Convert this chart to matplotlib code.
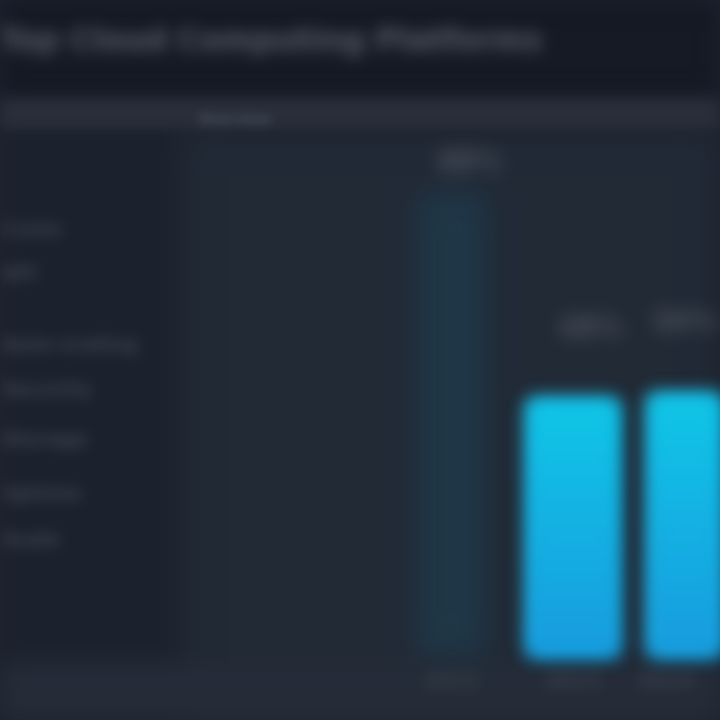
import numpy as np
import matplotlib
matplotlib.use("Agg")
import matplotlib.pyplot as plt
from matplotlib.patches import Rectangle

# ---- data ----
categories = ["2022", "2023", "2024"]
values = [88, 48.5, 49.5]
highlight = [False, True, True]
value_labels = ["88%", "48%", "50%"]
menu_items = ["Costs", "API", "Auto-scaling", "Security", "Storage", "Uptime", "Scale"]
title = "Top Cloud Computing Platforms"
header = "Overview"


def make_blur(sigma):
    def _filter(im, dpi):
        pad = int(sigma * 3)
        h, w, c = im.shape
        out = np.zeros((h + 2 * pad, w + 2 * pad, c), dtype=float)
        out[pad:pad + h, pad:pad + w] = im
        a = out[..., 3:4].copy()
        out[..., :3] *= a
        x = np.arange(-pad, pad + 1)
        k = np.exp(-x ** 2 / (2 * sigma ** 2))
        k /= k.sum()
        out = np.apply_along_axis(lambda r: np.convolve(r, k, mode="same"), 0, out)
        out = np.apply_along_axis(lambda r: np.convolve(r, k, mode="same"), 1, out)
        a = out[..., 3:4]
        out[..., :3] = np.where(a > 1e-6, out[..., :3] / np.maximum(a, 1e-6), 0)
        out = np.clip(out, 0, 1)
        return out, -pad, -pad
    return _filter


W = H = 720
fig = plt.figure(figsize=(7.2, 7.2), dpi=100)
fig.patch.set_facecolor("#1d2330")


def px_rect(x0, y0, x1, y1, color, blur=10):
    r = Rectangle((x0 / W, 1 - y1 / H), (x1 - x0) / W, (y1 - y0) / H,
                  transform=fig.transFigure, facecolor=color, edgecolor="none", zorder=-10)
    r.set_agg_filter(make_blur(blur))
    fig.patches.append(r)


# background panels (overlapping, drawn in order)
px_rect(-60, 100, 780, 780, "#1d222e")
px_rect(180, 128, 780, 780, "#222a37", blur=16)
px_rect(-60, 662, 780, 780, "#262d39", blur=12)
px_rect(-60, -60, 780, 95, "#151a24")
px_rect(-60, 100, 780, 128, "#2a303c", blur=7)

t = fig.text(0 / W, 1 - 42 / H, title, fontsize=22, fontweight="bold", color="#5a6069",
             va="center", ha="left", family="DejaVu Sans")
t.set_agg_filter(make_blur(8))
t = fig.text(198 / W, 1 - 120 / H, header, fontsize=10, fontweight="bold",
             color="#4e5560", va="center")
t.set_agg_filter(make_blur(5))

menu_y = [230, 275, 345, 390, 440, 495, 540]
for item, yy in zip(menu_items, menu_y):
    tt = fig.text(2 / W, 1 - yy / H, item, fontsize=14, fontweight="bold",
                  color="#3f4652", va="center", ha="left")
    tt.set_agg_filter(make_blur(7))

# ---- chart axes ----
ax = fig.add_axes([180 / W, (H - 655) / H, 540 / W, (655 - 130) / H])
ax.set_facecolor("none")
x = np.arange(len(categories))
colors = ["#14b2e8" if h else "#1f3848" for h in highlight]
widths = [0.74 if h else 0.55 for h in highlight]
bars = ax.bar(x, values, width=widths, color=colors, zorder=3)
for b, h in zip(bars, highlight):
    b.set_agg_filter(make_blur(9 if h else 14))
    if h:
        bx, by = b.get_x(), b.get_y()
        grad = np.linspace(0, 1, 256).reshape(-1, 1)
        im = ax.imshow(grad, extent=(bx, bx + b.get_width(), by, by + b.get_height()),
                       cmap=matplotlib.colors.LinearSegmentedColormap.from_list(
                           "g", ["#1a9ce0", "#10c8e8"]),
                       aspect="auto", origin="lower", zorder=4)
        im.set_clip_path(b)
        im.set_agg_filter(make_blur(9))

for i, (xi, v, lab, h) in enumerate(zip(x, values, value_labels, highlight)):
    off = 11 if h else 3
    last = i == len(x) - 1
    tt = ax.text(xi + (0.2 if last else 0.15), v + off, lab,
                 ha="right" if last else "center", va="bottom", fontsize=20,
                 fontweight="bold", color="#4f5661", zorder=5)
    tt.set_agg_filter(make_blur(9))

ax.set_xlim(-(451 - 180) / 121.5, 2 + (720 - 694) / 121.5)
ax.set_ylim(0, 100)
ax.set_xticks(x)
ax.set_xticklabels(categories, color="#3a414c", fontsize=15, fontweight="bold")
ticklabels = ax.get_xticklabels()
ticklabels[-1].set_horizontalalignment("right")
for lbl in ticklabels:
    lbl.set_agg_filter(make_blur(7))
ax.tick_params(axis="x", length=0, pad=12)
ax.set_yticks([])
for s in ax.spines.values():
    s.set_visible(False)

fig.savefig("out.png", dpi=100, facecolor=fig.get_facecolor())
